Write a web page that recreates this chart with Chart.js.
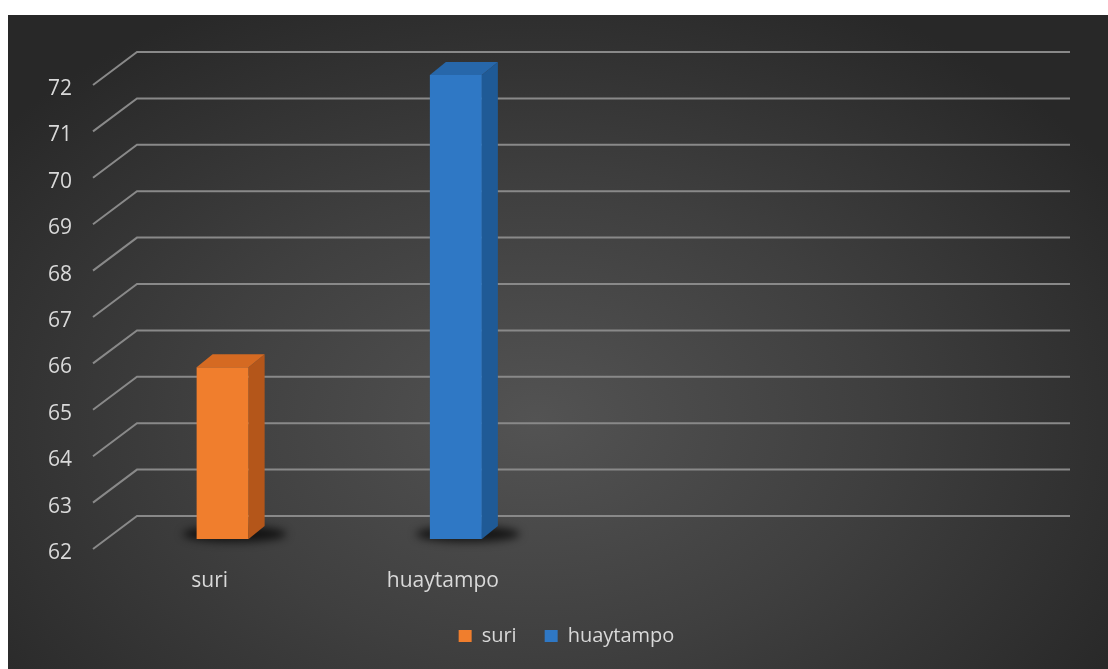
<!DOCTYPE html>
<html>
<head>
<meta charset="utf-8">
<script src="https://cdn.jsdelivr.net/npm/chart.js@4.4.0/dist/chart.umd.min.js"></script>
<style>
    body { margin: 0; background: #fff; }
    #wrap {
        position: absolute; left: 8px; top: 15px; width: 1100px; height: 654px;
        background: radial-gradient(ellipse 62% 72% at 48% 62%, #535353 0%, #3f3f3f 50%, #282828 100%);
    }
</style>
</head>
<body>
<div id="wrap"><canvas id="chart" width="1100" height="654"></canvas></div>
<script>
const CATEGORIES = ['suri', 'huaytampo', '', ''];
const SURI = [65.7, null, null, null];
const HUAYTAMPO = [null, 72, null, null];
const Y_MIN = 62;
const Y_MAX = 72;

const TEXT = '#d9d9d9';
const FONT = "'Open Sans', sans-serif";

// 3D offsets relative to the bar front plane
const FRONT = { dx: -13, dy: 10 };
const BACK = { dx: 31, dy: -23 };
const BAR_DEPTH = { dx: 16, dy: -13 };
const SHADE = [
    { side: '#b4561a', top: '#d56a22' },
    { side: '#1f5a96', top: '#2767aa' }
];
const LEGEND_SHIFT = 43;

function poly(ctx, pts, fill) {
    ctx.beginPath();
    ctx.moveTo(pts[0][0], pts[0][1]);
    pts.slice(1).forEach(p => ctx.lineTo(p[0], p[1]));
    ctx.closePath();
    ctx.fillStyle = fill;
    ctx.fill();
}

function eachBar(chart, fn) {
    chart.data.datasets.forEach((ds, i) => {
        chart.getDatasetMeta(i).data.forEach((bar, j) => {
            if (ds.data[j] == null) return;
            fn(bar, i);
        });
    });
}

const depth3d = {
    id: 'depth3d',
    afterLayout(chart) {
        // legend sits a bit right of the canvas centre in the original
        chart.legend.left += LEGEND_SHIFT;
        chart.legend.right += LEGEND_SHIFT;
    },
    beforeDatasetsDraw(chart) {
        const { ctx, chartArea: a, scales: { y } } = chart;
        ctx.save();
        // gridlines: slanted side wall + back wall
        ctx.strokeStyle = '#898989';
        ctx.lineWidth = 2;
        for (let v = Y_MIN; v <= Y_MAX; v++) {
            const py = y.getPixelForValue(v);
            ctx.beginPath();
            ctx.moveTo(a.left + FRONT.dx, py + FRONT.dy);
            ctx.lineTo(a.left + BACK.dx, py + BACK.dy);
            ctx.lineTo(a.right + BACK.dx, py + BACK.dy);
            ctx.stroke();
        }
        // soft floor shadow under each bar
        ctx.filter = 'blur(4px)';
        eachBar(chart, bar => {
            ctx.beginPath();
            ctx.ellipse(bar.x + 12, bar.base - 5, bar.width * 1.0, 8, 0, 0, Math.PI * 2);
            ctx.fillStyle = 'rgba(0,0,0,0.7)';
            ctx.fill();
        });
        ctx.restore();
    },
    afterDatasetsDraw(chart) {
        const { ctx } = chart;
        ctx.save();
        eachBar(chart, (bar, i) => {
            const l = bar.x - bar.width / 2, r = bar.x + bar.width / 2;
            const t = bar.y, b = bar.base;
            const { dx, dy } = BAR_DEPTH;
            poly(ctx, [[r, t], [r + dx, t + dy], [r + dx, b + dy], [r, b]], SHADE[i].side);
            poly(ctx, [[l, t], [l + dx, t + dy], [r + dx, t + dy], [r, t]], SHADE[i].top);
        });
        ctx.restore();
    }
};

new Chart(document.getElementById('chart'), {
    type: 'bar',
    data: {
        labels: CATEGORIES,
        datasets: [
            { label: 'suri', data: SURI, backgroundColor: '#f07e2d' },
            { label: 'huaytampo', data: HUAYTAMPO, backgroundColor: '#2f78c5' }
        ]
    },
    options: {
        responsive: false,
        animation: false,
        devicePixelRatio: 1,
        datasets: { bar: { base: Y_MIN, skipNull: true, categoryPercentage: 1, barPercentage: 0.223 } },
        layout: { padding: { left: 0, right: 69, top: 60, bottom: 13 } },
        scales: {
            x: {
                grid: { display: false, drawTicks: false },
                border: { display: false },
                ticks: { color: TEXT, font: { family: FONT, size: 21 }, padding: 29, labelOffset: -13 },
                afterFit: s => { s.height = 59; }
            },
            y: {
                min: Y_MIN, max: Y_MAX,
                grid: { display: false, drawTicks: false },
                border: { display: false },
                ticks: { stepSize: 1, color: TEXT, font: { family: FONT, size: 21 }, padding: 34, labelOffset: 14 },
                afterFit: s => { s.width = 98; }
            }
        },
        plugins: {
            legend: {
                position: 'bottom',
                labels: { color: TEXT, font: { family: FONT, size: 20 }, boxWidth: 13, boxHeight: 12, padding: 28 }
            },
            tooltip: { enabled: false }
        }
    },
    plugins: [depth3d]
});
</script>
</body>
</html>
